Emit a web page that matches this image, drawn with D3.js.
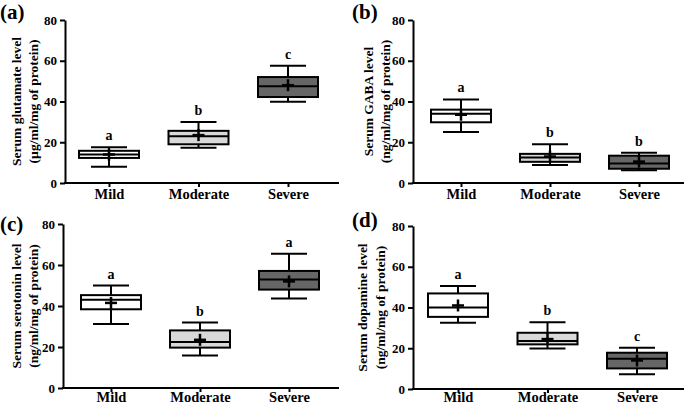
<!DOCTYPE html>
<html><head><meta charset="utf-8">
<script src="https://cdn.jsdelivr.net/npm/d3@7"></script>
<style>
html,body{margin:0;padding:0;background:#fff;}
svg text{font-family:"Liberation Serif","Times New Roman",serif;font-weight:bold;fill:#000;}
</style></head>
<body><svg id="chart" width="685" height="406"></svg>
<script>
// ---- data ----
const categories = ["Mild", "Moderate", "Severe"];
const yTicks = [0, 20, 40, 60, 80];
// each row: [whiskerLow, Q1, median, Q3, whiskerHigh, mean]
const glutamate = [[8, 12.3, 14, 15.8, 17.6, 14], [17.3, 19, 23, 25.6, 30, 23.5], [39.9, 42.2, 47.5, 52, 57.5, 48]];
const gaba      = [[25, 29.8, 34, 36, 41, 33.5], [8.8, 10.4, 12.5, 14.3, 19, 13], [6.3, 7, 9.6, 13.4, 14.9, 10.5]];
const serotonin = [[31.2, 38.4, 43, 45.3, 50, 41.5], [15.8, 19.7, 22.4, 28.1, 31.9, 23.5], [43.6, 48, 52.9, 57.1, 65.5, 52]];
const dopamine  = [[32.5, 35.4, 40, 46.9, 50.6, 41], [19.9, 21.9, 23.5, 27.6, 32.8, 24.5], [7.2, 10.1, 14.8, 17.8, 20.2, 14]];
const glutamateLetters = ["a", "b", "c"];
const gabaLetters = ["a", "b", "b"];
const serotoninLetters = ["a", "b", "a"];
const dopamineLetters = ["a", "b", "c"];
const panelLabels = ["(a)", "(b)", "(c)", "(d)"];
const titles1 = ["Serum glutamate level", "Serum GABA level", "Serum serotonin level", "Serum dopamine level"];
const titles2 = ["(\u00b5g/ml/mg of protein)", "(ng/ml/mg of protein)", "(ng/ml/mg of protein)", "(ng/ml/mg of protein)"];
const fills = ["#ffffff", "#d9d9d9", "#666666"];

// ---- layout ----
const panels = [
  {data: glutamate, letters: glutamateLetters, ax: 65, top: 20, bottom: 183, c0: 109, c1: 288, xEnd: 339, lx: 0, ly: 19, t1: 16, t2: 33, pad: 2},
  {data: gaba, letters: gabaLetters, ax: 413, top: 20, bottom: 183, c0: 461, c1: 639, xEnd: 684, lx: 352, ly: 19, t1: 368, t2: 385, pad: 2},
  {data: serotonin, letters: serotoninLetters, ax: 63, top: 224, bottom: 388, c0: 111, c1: 289, xEnd: 339, lx: 0, ly: 231, t1: 16, t2: 33, pad: 0},
  {data: dopamine, letters: dopamineLetters, ax: 413, top: 226, bottom: 389, c0: 458, c1: 637, xEnd: 684, lx: 352, ly: 227, t1: 362, t2: 380, pad: -1}
];

const svg = d3.select("#chart");
const boxW = 60, capW = 36;

panels.forEach((p, i) => {
  const g = svg.append("g");
  const y = d3.scaleLinear().domain([0, 80]).range([p.bottom, p.top]);
  const x = d3.scalePoint().domain(categories).range([p.c0, p.c1]);

  // y axis
  const ya = g.append("g").attr("transform", `translate(${p.ax},0)`)
    .call(d3.axisLeft(y).tickValues(yTicks).tickSize(5).tickSizeOuter(0).tickPadding(3));
  ya.select(".domain").attr("stroke", "#000").attr("stroke-width", 2);
  ya.selectAll(".tick line").attr("stroke", "#000").attr("stroke-width", 2);
  ya.selectAll(".tick text").style("font-size", "13px").style("font-family", "Liberation Serif").style("font-weight", "bold");

  // x axis
  const xa = g.append("g").attr("transform", `translate(0,${p.bottom})`)
    .call(d3.axisBottom(x).tickSize(4).tickSizeOuter(0).tickPadding(p.pad));
  xa.select(".domain").remove();
  g.append("line").attr("x1", p.ax - 1).attr("x2", p.xEnd).attr("y1", p.bottom).attr("y2", p.bottom)
    .attr("stroke", "#000").attr("stroke-width", 2);
  xa.selectAll(".tick line").attr("stroke", "#000").attr("stroke-width", 2);
  xa.selectAll(".tick text").style("font-size", "14.5px").style("font-family", "Liberation Serif").style("font-weight", "bold");

  // y title
  const midY = (p.top + p.bottom) / 2;
  g.append("text").attr("transform", `translate(${p.t1},${midY}) rotate(-90)`)
    .attr("text-anchor", "middle").attr("dy", "0.35em").style("font-size", "13.5px").text(titles1[i]);
  g.append("text").attr("transform", `translate(${p.t2},${midY}) rotate(-90)`)
    .attr("text-anchor", "middle").attr("dy", "0.35em").style("font-size", "13.5px").text(titles2[i]);

  // panel label
  g.append("text").attr("x", p.lx).attr("y", p.ly).style("font-size", "21px").text(panelLabels[i]);

  // boxes
  p.data.forEach((d, j) => {
    const cx = x(categories[j]);
    const [lo, q1, med, q3, hi, mean] = d;
    const bg = g.append("g").attr("stroke", "#000").attr("stroke-width", 2);
    bg.append("line").attr("x1", cx).attr("x2", cx).attr("y1", y(lo)).attr("y2", y(q1));
    bg.append("line").attr("x1", cx).attr("x2", cx).attr("y1", y(q3)).attr("y2", y(hi));
    bg.append("line").attr("x1", cx - capW / 2).attr("x2", cx + capW / 2).attr("y1", y(lo)).attr("y2", y(lo));
    bg.append("line").attr("x1", cx - capW / 2).attr("x2", cx + capW / 2).attr("y1", y(hi)).attr("y2", y(hi));
    bg.append("rect").attr("x", cx - boxW / 2).attr("width", boxW)
      .attr("y", y(q3)).attr("height", y(q1) - y(q3)).attr("fill", fills[j]);
    bg.append("line").attr("x1", cx - boxW / 2).attr("x2", cx + boxW / 2).attr("y1", y(med)).attr("y2", y(med));
    // mean "+"
    bg.append("line").attr("x1", cx - 6).attr("x2", cx + 6).attr("y1", y(mean)).attr("y2", y(mean)).attr("stroke-width", 2.5);
    bg.append("line").attr("x1", cx).attr("x2", cx).attr("y1", y(mean) - 6).attr("y2", y(mean) + 6).attr("stroke-width", 2.5);
    // significance letter
    g.append("text").attr("x", cx).attr("y", y(hi) - 7).attr("text-anchor", "middle")
      .style("font-size", "14px").text(p.letters[j]);
  });
});
</script></body></html>
